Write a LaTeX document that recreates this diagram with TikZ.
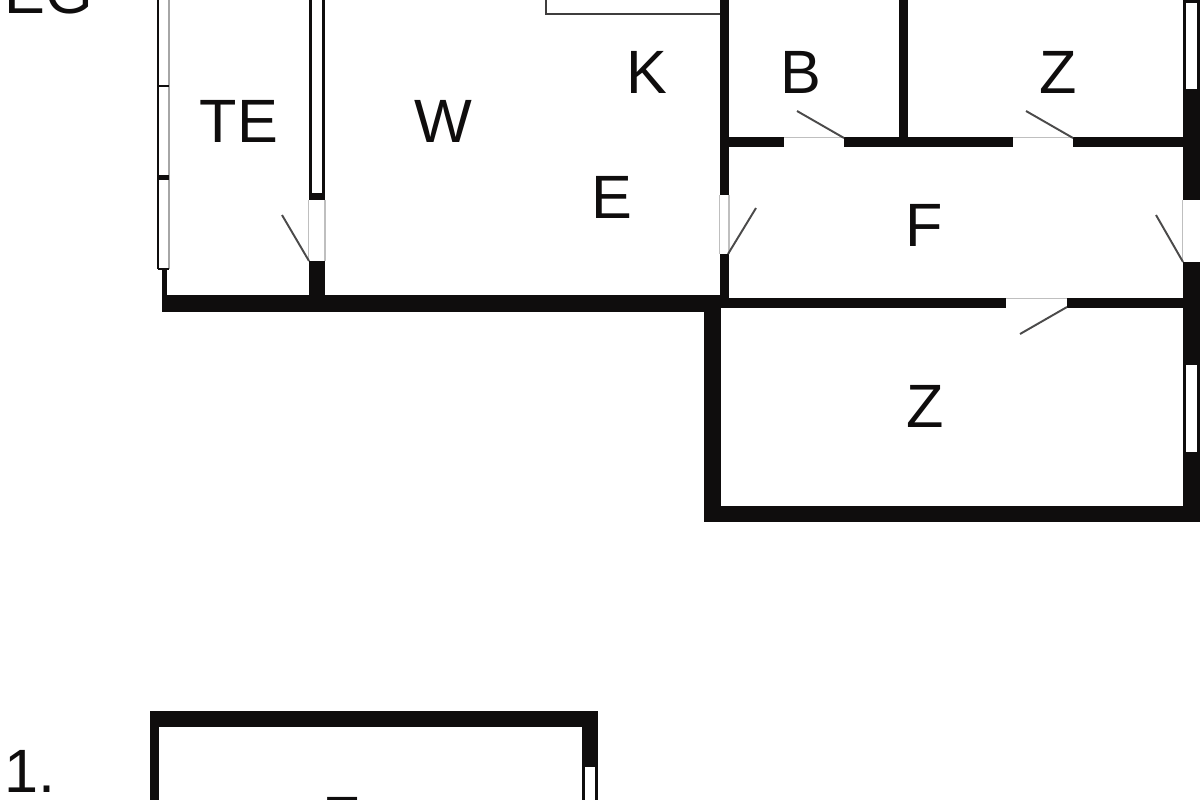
\documentclass[tikz,border=0pt]{standalone}
\usepackage{fontspec}
\setmainfont{Liberation Sans}
\definecolor{ink}{HTML}{0F0D0D}
\tikzset{
  room/.style={inner sep=0pt,outer sep=0pt,anchor=base,text=ink,font=\fontsize{17.4}{20}\selectfont},
  wall/.style={fill=ink,draw=none},
  leaf/.style={draw=ink!75,line width=0.55pt},
  thin/.style={draw=black!25,line width=0.35pt},
  pane/.style={fill=white,draw=none}
}
\begin{document}
\begin{tikzpicture}[x=0.01cm,y=-0.01cm]
\useasboundingbox (0,0) rectangle (1200,800);
\clip (0,0) rectangle (1200,800);
\fill[white] (0,0) rectangle (1200,800);
% left window
\draw[draw=ink,line width=0.35pt] (158,0) -- (158,269);
\draw[draw=black!35,line width=0.45pt] (169,0) -- (169,269);
\fill[wall] (158,84.5) rectangle (169,86.5);
\fill[wall] (158,175) rectangle (169,180);
\fill[wall] (158,268) rectangle (169,270);
\fill[wall] (162,269) rectangle (166.5,296);
% bottom wall of the left part
\fill[wall] (162,295) rectangle (721,312);
% TE / W wall
\fill[wall] (309,0) rectangle (325,200);
\fill[pane] (312,0) rectangle (322,193);
\fill[wall] (309,261) rectangle (325,296);
\draw[thin] (308.5,200) -- (308.5,261) (325,200) -- (325,261);
\draw[leaf] (309,261) -- (282,215);
% counter
\draw[draw=ink!80,line width=0.5pt] (546,0) -- (546,14) -- (721,14);
% main vertical wall
\fill[wall] (720,0) rectangle (729,195);
\fill[wall] (720,254) rectangle (729,308);
\draw[thin] (719.5,195) -- (719.5,254) (729,195) -- (729,254);
\draw[leaf] (728,254) -- (756,208);
% wall B / Z
\fill[wall] (899,0) rectangle (908,140);
% corridor upper wall
\fill[wall] (729,137) rectangle (784,147);
\fill[wall] (844,137) rectangle (1013,147);
\fill[wall] (1073,137) rectangle (1184,147);
\draw[thin] (784,137.5) -- (844,137.5) (1013,137.5) -- (1073,137.5);
\draw[leaf] (844,138) -- (797,111);
\draw[leaf] (1073,138) -- (1026,111);
% corridor lower wall
\fill[wall] (729,298) rectangle (1006,308);
\fill[wall] (1067,298) rectangle (1184,308);
\draw[thin] (1006,298.5) -- (1067,298.5);
\draw[leaf] (1067,307) -- (1020,334);
% lower room
\fill[wall] (704,300) rectangle (721,522);
\fill[wall] (704,506) rectangle (1200,522);
% right wall
\fill[wall] (1183,0) rectangle (1200,200);
\fill[wall] (1183,262) rectangle (1200,522);
\fill[pane] (1186,3) rectangle (1197,89);
\fill[pane] (1186,365) rectangle (1197,452);
\draw[thin] (1182.5,200) -- (1182.5,262);
\draw[leaf] (1183,262) -- (1156,215);
% upper floor
\fill[wall] (150,711) rectangle (598,727);
\fill[wall] (150,711) rectangle (159,800);
\fill[wall] (582,711) rectangle (598,800);
\fill[pane] (585,767) rectangle (595,800);
% labels
\node[room] (eg) at (49,14) {EG};
\node[room] (te) at (239,142) {TE};
\node[room] (w) at (443,142) {W};
\node[room] (k) at (647,93) {K};
\node[room] (e) at (612,218) {E};
\node[room] (b) at (801,93) {B};
\node[room] (z1) at (1058,93) {Z};
\node[room] (f) at (924,246) {F};
\node[room] (z2) at (925,427) {Z};
\node[room] (one) at (30,792) {1.};
\node[room] (z3) at (342,839) {Z};
\end{tikzpicture}
\end{document}
